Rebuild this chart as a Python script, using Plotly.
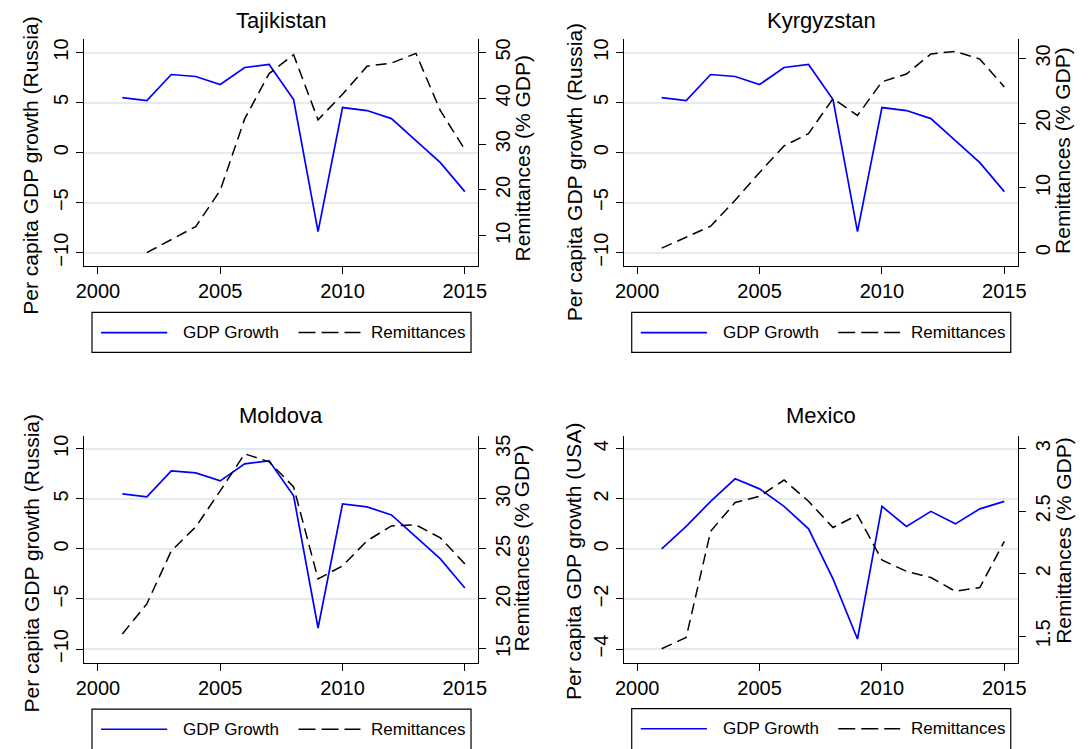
import plotly.graph_objects as go

# ---------------- data ----------------
years = list(range(2001, 2016))
russia_growth = [5.5, 5.2, 7.8, 7.6, 6.8, 8.5, 8.8, 5.3, -7.9, 4.5, 4.2, 3.4, 1.2, -1.0, -3.9]
usa_growth = [0.0, 0.9, 1.9, 2.8, 2.4, 1.7, 0.8, -1.2, -3.6, 1.7, 0.9, 1.5, 1.0, 1.6, 1.9]
tajikistan_remit = [None, 6.3, 9.2, 12.0, 19.9, 35.5, 45.4, 49.5, 35.3, 40.9, 47.0, 47.7, 49.8, 37.3, 28.8]
kyrgyzstan_remit = [0.7, 2.4, 4.1, 8.1, 12.4, 16.5, 18.4, 23.8, 21.2, 26.4, 27.6, 30.7, 31.1, 29.9, 25.6]
moldova_remit = [16.5, 19.5, 24.8, 27.2, 30.8, 34.5, 33.7, 31.2, 22.0, 23.3, 25.8, 27.3, 27.4, 26.1, 23.5]
mexico_remit = [1.40, 1.49, 2.34, 2.57, 2.62, 2.75, 2.58, 2.37, 2.47, 2.11, 2.02, 1.97, 1.86, 1.89, 2.26]

panel_titles = ["Tajikistan", "Kyrgyzstan", "Moldova", "Mexico"]
left_titles = ["Per capita GDP growth (Russia)", "Per capita GDP growth (Russia)",
               "Per capita GDP growth (Russia)", "Per capita GDP growth (USA)"]
right_title = "Remittances (% GDP)"
x_ticks = [2000, 2005, 2010, 2015]
left_ticks = [[-10, -5, 0, 5, 10]] * 3 + [[-4, -2, 0, 2, 4]]
right_ticks = [[10, 20, 30, 40, 50], [0, 10, 20, 30], [15, 20, 25, 30, 35], [1.5, 2, 2.5, 3]]
right_ticktext = [["10", "20", "30", "40", "50"], ["0", "10", "20", "30"],
                  ["15", "20", "25", "30", "35"], ["1.5", "2", "2.5", "3"]]
legend_labels = ["GDP Growth", "Remittances"]

growth_series = [russia_growth, russia_growth, russia_growth, usa_growth]
remit_series = [tajikistan_remit, kyrgyzstan_remit, moldova_remit, mexico_remit]

# ---------------- layout helpers ----------------
W, H = 1088, 749
FONT = "Liberation Sans, Arial, Helvetica, sans-serif"


def px(x):
    return x / W


def py(y):
    return 1 - y / H


# plot areas in pixels: (left, right, top, bottom)
areas = [(76.2, 476.7, 38.3, 265.7), (625.6, 1026.0, 38.3, 265.7),
         (76.2, 476.7, 435.7, 663.3), (625.6, 1026.0, 435.7, 663.3)]
x_ranges = [[1999.43, 2015.53], [1999.47, 2015.56], [1999.43, 2015.53], [1999.47, 2015.56]]
left_ranges = [[-11.33, 11.33], [-11.33, 11.33], [-11.35, 11.33], [-4.54, 4.53]]
right_ranges = [[3.4, 52.9], [-2.05, 32.98], [13.64, 36.33], [1.29, 3.106]]
title_pos = [(276.5, 20), (825.8, 20), (276.5, 416), (825.8, 416)]
ltitle_pos = [(21.5, 165), (575.3, 172), (23.3, 564), (574.0, 562)]
rtitle_pos = [(522.6, 157), (1071.0, 150), (521.5, 548), (1072.0, 541)]
legend_box = [(84.4, 469.8, 312.3, 352.3), (633.2, 1018.6, 312.3, 352.3),
              (84.4, 469.8, 710.0, 752.0), (633.2, 1018.6, 709.5, 752.0)]

fig = go.Figure()
layout = dict(
    width=W, height=H, margin=dict(l=0, r=0, t=0, b=0),
    paper_bgcolor="white", plot_bgcolor="white", showlegend=False,
    font=dict(family=FONT, color="black"),
)
shapes = []
annotations = []

for i in range(4):
    xa = "x" if i == 0 else f"x{i + 1}"
    ya_l = "y" if i == 0 else f"y{2 * i + 1}"
    ya_r = f"y{2 * i + 2}"
    xkey = "xaxis" if i == 0 else f"xaxis{i + 1}"
    ylkey = "yaxis" if i == 0 else f"yaxis{2 * i + 1}"
    yrkey = f"yaxis{2 * i + 2}"
    l, r, t, b = areas[i]

    fig.add_trace(go.Scatter(x=years, y=growth_series[i], mode="lines",
                             line=dict(color="#0000ff", width=1.7),
                             name=legend_labels[0], xaxis=xa, yaxis=ya_l))
    fig.add_trace(go.Scatter(x=years, y=remit_series[i], mode="lines",
                             line=dict(color="black", width=1.5, dash="11px,6px"),
                             name=legend_labels[1], xaxis=xa, yaxis=ya_r,
                             connectgaps=False))

    layout[xkey] = dict(
        domain=[px(l), px(r)], anchor=ya_l, range=x_ranges[i],
        tickmode="array", tickvals=x_ticks, ticks="outside", ticklen=7,
        tickwidth=1.2, tickcolor="black", showline=True, linecolor="black",
        linewidth=1.2, showgrid=False, zeroline=False,
        tickfont=dict(size=20, family=FONT, color="black"),
    )
    layout[ylkey] = dict(
        domain=[py(b), py(t)], anchor=xa, range=left_ranges[i],
        tickmode="array", tickvals=left_ticks[i], ticks="outside", ticklen=7,
        tickwidth=1.2, tickcolor="black", tickangle=-90, showline=True,
        linecolor="black", linewidth=1.2, showgrid=True, gridcolor="#e3ebee",
        gridwidth=1.5, zeroline=False,
        tickfont=dict(size=20, family=FONT, color="black"),
    )
    layout[yrkey] = dict(
        overlaying=ya_l, side="right", anchor=xa, range=right_ranges[i],
        tickmode="array", tickvals=right_ticks[i], ticktext=right_ticktext[i],
        ticks="outside", ticklen=7, tickwidth=1.2, tickcolor="black",
        tickangle=-90, showline=True, linecolor="black", linewidth=1.2,
        showgrid=False, zeroline=False,
        tickfont=dict(size=20, family=FONT, color="black"),
    )

    # panel title
    annotations.append(dict(text=panel_titles[i], x=px(title_pos[i][0]), y=py(title_pos[i][1]),
                            xref="paper", yref="paper", xanchor="center", yanchor="middle",
                            showarrow=False, font=dict(size=22, family=FONT, color="black")))
    # axis titles
    annotations.append(dict(text=left_titles[i], x=px(ltitle_pos[i][0]), y=py(ltitle_pos[i][1]),
                            xref="paper", yref="paper", xanchor="center", yanchor="middle",
                            textangle=-90, showarrow=False,
                            font=dict(size=21, family=FONT, color="black")))
    annotations.append(dict(text=right_title, x=px(rtitle_pos[i][0]), y=py(rtitle_pos[i][1]),
                            xref="paper", yref="paper", xanchor="center", yanchor="middle",
                            textangle=-90, showarrow=False,
                            font=dict(size=21, family=FONT, color="black")))

    # legend box (drawn manually to match the Stata key layout)
    bl, br, bt, bb = legend_box[i]
    cy = bt + 20.2
    shapes.append(dict(type="rect", xref="paper", yref="paper",
                       x0=px(bl), x1=px(br), y0=py(bb), y1=py(bt),
                       line=dict(color="black", width=1.2), fillcolor="rgba(0,0,0,0)"))
    shapes.append(dict(type="line", xref="paper", yref="paper",
                       x0=px(bl + 9.2), x1=px(bl + 76.5), y0=py(cy), y1=py(cy),
                       line=dict(color="#0000ff", width=1.7)))
    shapes.append(dict(type="line", xref="paper", yref="paper",
                       x0=px(bl + 210.0), x1=px(bl + 273.0), y0=py(cy), y1=py(cy),
                       line=dict(color="black", width=1.5, dash="17px,6px")))
    annotations.append(dict(text=legend_labels[0], x=px(bl + 90.5), y=py(cy),
                            xref="paper", yref="paper", xanchor="left", yanchor="middle",
                            showarrow=False, font=dict(size=17, family=FONT, color="black")))
    annotations.append(dict(text=legend_labels[1], x=px(bl + 281.5), y=py(cy),
                            xref="paper", yref="paper", xanchor="left", yanchor="middle",
                            showarrow=False, font=dict(size=17, family=FONT, color="black")))

layout["shapes"] = shapes
layout["annotations"] = annotations
fig.update_layout(**layout)
fig.write_html("out.html",
               config={"displayModeBar": False},
               post_script="document.body.style.margin='0';document.body.style.overflow='hidden';")
